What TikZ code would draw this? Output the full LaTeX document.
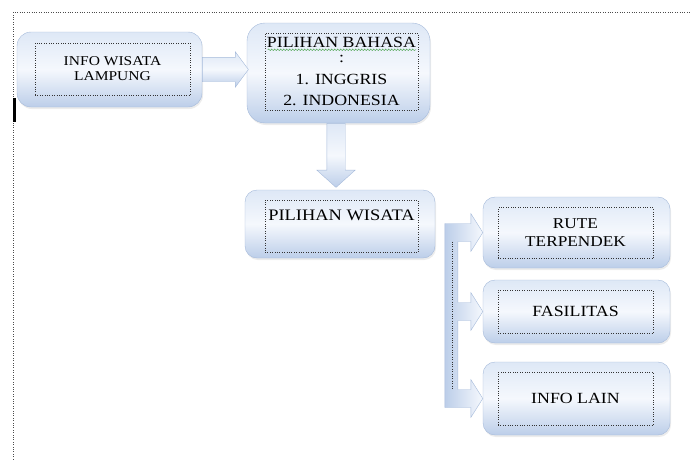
\documentclass[tikz,border=0pt]{standalone}
\usepackage{fontspec}
\setmainfont{Liberation Serif}[FakeStretch=1.15]
\usetikzlibrary{calc, shapes.arrows, shadows, decorations.pathmorphing}

\definecolor{boxtop}{RGB}{222,232,246}
\definecolor{boxmid}{RGB}{245,248,253}
\definecolor{boxbot}{RGB}{188,206,233}
\definecolor{boxedge}{RGB}{165,186,218}
\definecolor{spellgreen}{RGB}{70,160,70}

\begin{document}
\begin{tikzpicture}[
        x=1pt, y=-1pt,
        panel/.style={rectangle, draw=boxedge, rounded corners=12pt, inner sep=0pt,
                      top color=boxtop, bottom color=boxbot, middle color=boxmid,
                      drop shadow={opacity=0.15, shadow xshift=1pt, shadow yshift=-2pt}},
        frame/.style={rectangle, draw=black!80, dotted, align=center, inner sep=2pt},
        blockarrow/.style={single arrow, draw=boxedge, inner xsep=0pt,
                           top color=boxtop, bottom color=boxbot, middle color=boxmid},
        spell/.style={spellgreen, decorate, decoration={snake, amplitude=0.8pt, segment length=3pt}},
    ]
    \useasboundingbox (0,0) rectangle (691,459);

    % bingkai halaman
    \draw[dotted, black!70] (13,459) -- (13,12) -- (691,12);
    \fill (12.5,98) rectangle (15.5,122);

    % kiri atas: info wisata
    \node[panel, minimum width=185pt, minimum height=75pt, rounded corners=14pt] (info) at (109.5,69.5) {};
    \node[frame, minimum width=155pt, minimum height=52pt, font=\fontsize{13.5}{15}\selectfont] (info-txt) at (112.5,69) {INFO WISATA\\LAMPUNG};

    % kanan atas: pilihan bahasa
    \node[panel, minimum width=183pt, minimum height=100pt, rounded corners=18pt] (bahasa) at (338.5,73) {};
    \node[frame, minimum width=153pt, minimum height=77pt, font=\fontsize{15.5}{21.5}\selectfont] (bahasa-txt) at (341.5,71.5)
        {PILIHAN BAHASA\\[-6.5pt]:\\1. INGGRIS\\2. INDONESIA};
    \draw[spell] ($(bahasa-txt.north west)+(3,17)$) -- ($(bahasa-txt.north east)+(-2,17)$);

    % tengah: pilihan wisata
    \node[panel, minimum width=190pt, minimum height=68pt] (wisata) at (340,224) {};
    \node[frame, minimum width=153pt, minimum height=52pt, text depth=22pt, font=\fontsize{16}{18}\selectfont] (wisata-txt) at (341.5,226) {PILIHAN WISATA};

    % kanan: tiga pilihan
    \node[panel, minimum width=187pt, minimum height=71pt] (rute) at (576.5,232.5) {};
    \node[frame, minimum width=155pt, minimum height=51pt, font=\fontsize{15}{18}\selectfont] (rute-txt) at (575.5,233) {RUTE\\TERPENDEK};
    \node[panel, minimum width=187pt, minimum height=63pt] (fas) at (576.5,311.5) {};
    \node[frame, minimum width=155pt, minimum height=43pt, font=\fontsize{15.5}{18}\selectfont] (fas-txt) at (575.5,311.5) {FASILITAS};
    \node[panel, minimum width=187pt, minimum height=73pt] (lain) at (576.5,398.5) {};
    \node[frame, minimum width=155pt, minimum height=53pt, font=\fontsize{15.5}{18}\selectfont] (lain-txt) at (575.5,398.5) {INFO LAIN};

    % panah blok
    \node[blockarrow, anchor=tail, minimum height=46pt, inner ysep=12pt,
          single arrow head extend=5.5pt, single arrow tip angle=107] (arr-a) at (info.east) {};
    \node[blockarrow, anchor=tail, rotate=-90, minimum height=64pt, inner ysep=9pt,
          single arrow head extend=10pt, single arrow tip angle=96] (arr-b) at ($(bahasa.south)+(-2.5,0)$) {};

    % cabang ke tiga pilihan
    \path[draw=boxedge, left color=boxbot, right color=boxmid]
        ($(rute.west)+(-38,-9)$) -- ($(rute.west)+(-12,-9)$) -- ($(rute.west)+(-12,-19)$) -- (rute.west)
        -- ($(rute.west)+(-12,19)$) -- ($(rute.west)+(-12,9)$) -- ($(rute.west)+(-25,9)$)
        -- ($(fas.west)+(-25,-9)$) -- ($(fas.west)+(-12,-9)$) -- ($(fas.west)+(-12,-19)$) -- (fas.west)
        -- ($(fas.west)+(-12,19)$) -- ($(fas.west)+(-12,9)$) -- ($(fas.west)+(-25,9)$)
        -- ($(lain.west)+(-25,-9)$) -- ($(lain.west)+(-12,-9)$) -- ($(lain.west)+(-12,-19)$) -- (lain.west)
        -- ($(lain.west)+(-12,19)$) -- ($(lain.west)+(-12,9)$) -- ($(lain.west)+(-38,9)$) -- cycle;
    \draw[dotted, black!80] ($(rute.west)+(-31,9)$) -- ($(lain.west)+(-31,-9)$);

\end{tikzpicture}
\end{document}
